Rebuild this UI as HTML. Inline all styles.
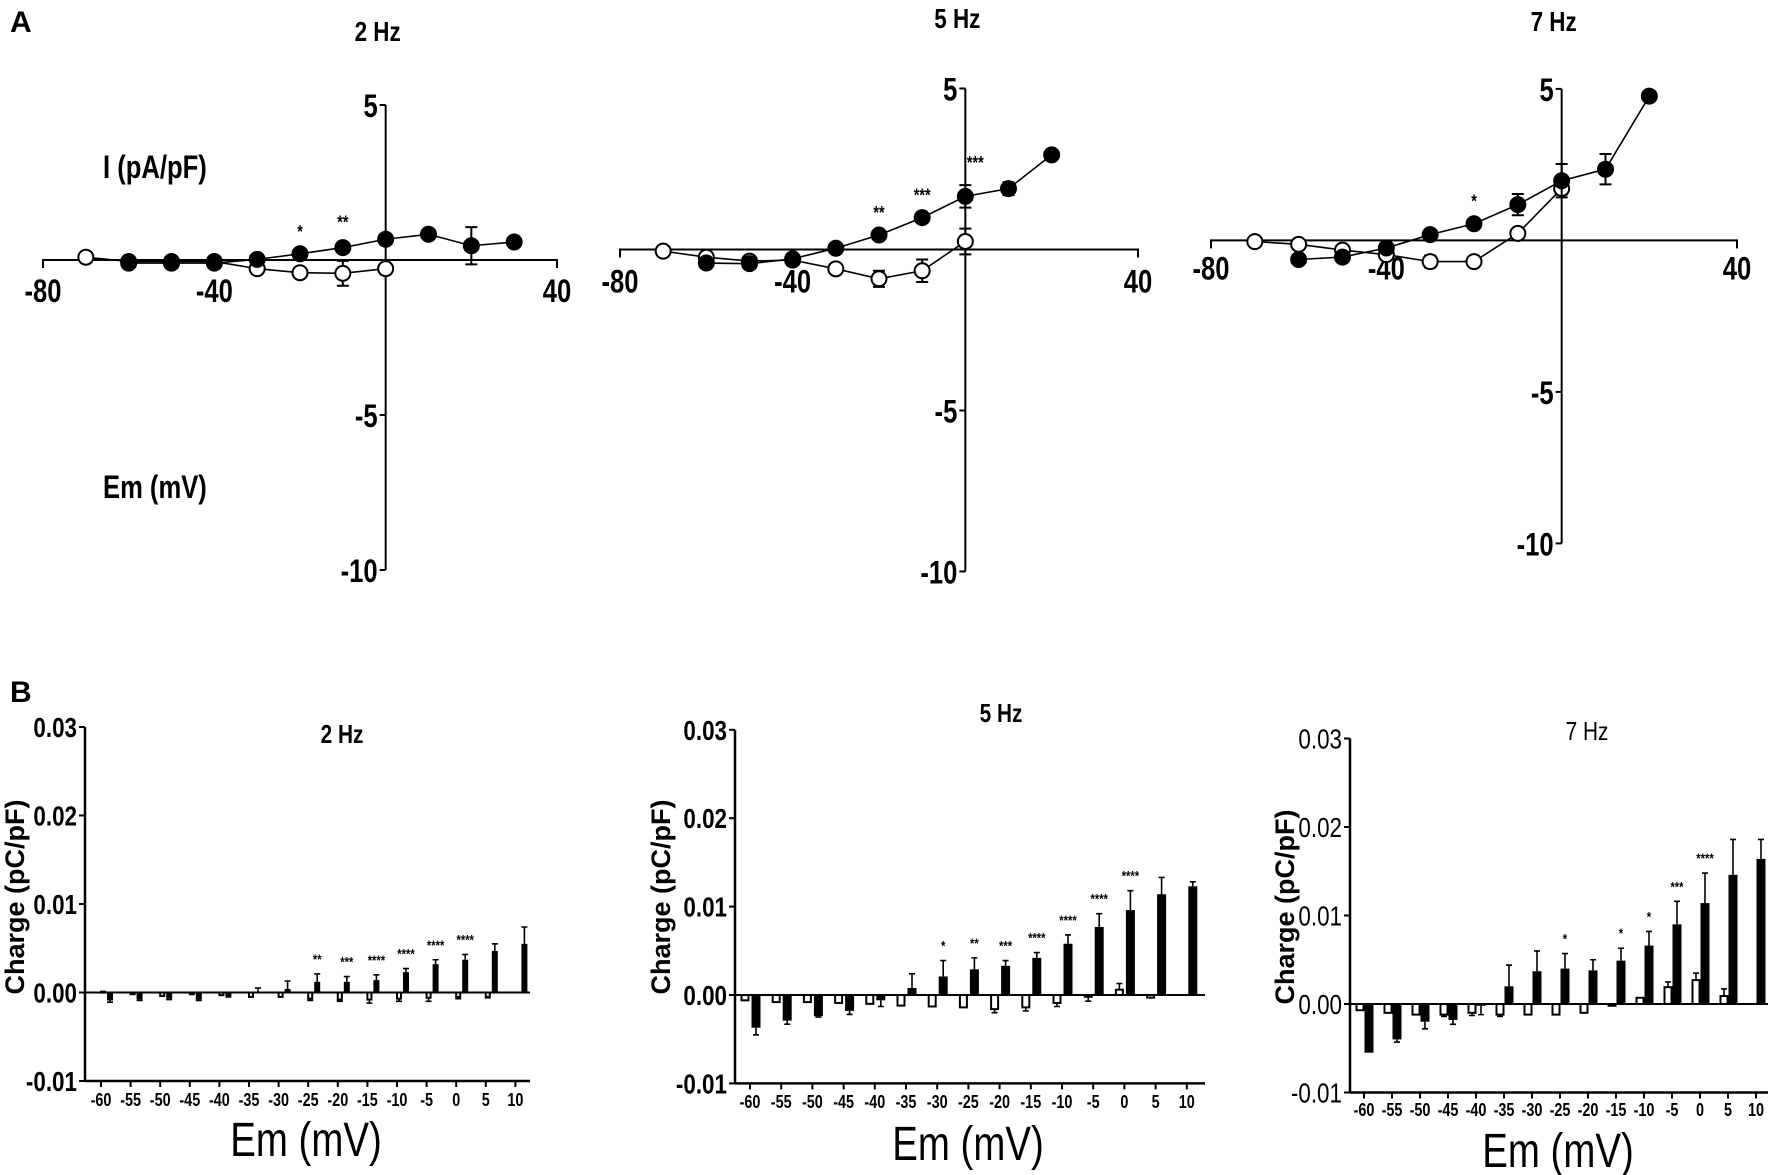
<!DOCTYPE html>
<html><head><meta charset="utf-8">
<style>
html,body{margin:0;padding:0;background:#fff;}
svg{display:block;}
text{font-family:"Liberation Sans Narrow","Liberation Sans",sans-serif;fill:#000;}
</style></head>
<body>
<svg id="fig" width="1772" height="1175" viewBox="0 0 1772 1175" xmlns="http://www.w3.org/2000/svg">
<rect width="1772" height="1175" fill="#fff"/>
<text x="10" y="32" font-size="30" font-weight="bold" style="font-family:'Liberation Sans',sans-serif">A</text>
<text x="10" y="702" font-size="30" font-weight="bold" style="font-family:'Liberation Sans',sans-serif">B</text>
<text class="narrow" x="103" y="178" font-size="32" font-weight="bold">I (pA/pF)</text>
<text class="narrow" x="103" y="498" font-size="32" font-weight="bold">Em (mV)</text>
</svg>
<script>
// ---------- Panel A data (I-V curves) ----------
const ivFilledV = [-60,-50,-40,-30,-20,-10,0,10,20,30];
const ivOpenV = [-70,-60,-50,-40,-30,-20,-10,0];
const a2Filled = [-0.1,-0.1,-0.1,0.02,0.2,0.4,0.67,0.83,0.46,0.58];
const a2FilledErr = [0,0,0,0,0,0.1,0.1,0,0.6,0];
const a2Open = [0.09,-0.05,-0.05,-0.05,-0.28,-0.41,-0.43,-0.28];
const a2OpenErr = [0,0,0,0,0,0,0.4,0];
const a2Stars = ['','','','','*','**','','','',''];
const a5Filled = [-0.42,-0.44,-0.29,0.04,0.45,0.99,1.65,1.89,2.94];
const a5FilledErr = [0,0,0,0,0,0,0.35,0.2,0];
const a5Open = [-0.05,-0.24,-0.36,-0.33,-0.6,-0.91,-0.66,0.25];
const a5OpenErr = [0,0,0,0,0,0.25,0.35,0.4];
const a5Stars = ['','','','','**','***','***','',''];
const a7Filled = [-0.63,-0.55,-0.25,0.19,0.55,1.18,1.97,2.35,4.76];
const a7FilledErr = [0,0,0,0,0,0.35,0.55,0.5,0];
const a7Open = [-0.04,-0.13,-0.32,-0.47,-0.7,-0.7,0.23,1.71];
const a7OpenErr = [0,0,0,0,0.2,0,0,0.2];
const a7Stars = ['','','','','*','','','',''];
const ivXTicks = [-80,-40,40];
const ivYTicks = [5,-5,-10];

// ---------- Panel B data (charge bars) ----------
const bCats = [-60,-55,-50,-45,-40,-35,-30,-25,-20,-15,-10,-5,0,5,10];
const bYTicks = [0.03,0.02,0.01,0.00,-0.01];
const b2Filled = [-0.0009,-0.0008,-0.0007,-0.0008,-0.0004,0.0001,0.0004,0.0012,0.0012,0.0014,0.0023,0.0032,0.0037,0.0047,0.0055];
const b2FilledErr = [0.0002,0.0001,0.0001,0.0001,0.0001,0.0004,0.0009,0.0009,0.0006,0.0006,0.0004,0.0005,0.0006,0.0008,0.0019];
const b2Open = [0.0001,-0.0002,-0.0004,-0.0002,-0.0003,-0.0005,-0.0005,-0.0007,-0.0008,-0.0008,-0.0007,-0.0006,-0.0005,-0.0005,0];
const b2OpenErr = [0,0,0,0,0,0,0,0.0002,0.0002,0.0004,0.0003,0.0004,0.0002,0.0001,0];
const b2Stars = ['','','','','','','','**','***','****','****','****','****','',''];
const b5Filled = [-0.0037,-0.0029,-0.0024,-0.0018,-0.0006,0.0008,0.0021,0.0029,0.0033,0.0042,0.0058,0.0077,0.0096,0.0114,0.0123];
const b5FilledErr = [0.0008,0.0004,0.0001,0.0004,0.0007,0.0016,0.0018,0.0013,0.0006,0.0006,0.001,0.0015,0.0022,0.0019,0.0005];
const b5Open = [-0.0006,-0.0008,-0.0008,-0.0009,-0.001,-0.0012,-0.0013,-0.0014,-0.0016,-0.0014,-0.0009,-0.0002,0.0006,-0.0003,0];
const b5OpenErr = [0,0,0,0,0,0,0,0,0.0004,0.0004,0.0004,0.0005,0.0007,0,0];
const b5Stars = ['','','','','','','*','**','***','****','****','****','****','',''];
const b7Filled = [-0.0055,-0.004,-0.002,-0.0018,-0.0002,0.002,0.0037,0.004,0.0038,0.0049,0.0066,0.009,0.0114,0.0146,0.0164];
const b7FilledErr = [0,0.0003,0.0008,0.0005,0.001,0.0024,0.0023,0.0017,0.0012,0.0014,0.0016,0.0026,0.0034,0.004,0.0022];
const b7Open = [-0.0007,-0.001,-0.0012,-0.0012,-0.001,-0.0012,-0.0012,-0.0012,-0.001,-0.0002,0.0007,0.0019,0.0027,0.0009,0];
const b7OpenErr = [0,0,0,0.0002,0.0003,0.0002,0,0,0,0,0,0.0006,0.0008,0.0008,0];
const b7Stars = ['','','','','','','','*','','*','*','***','****','',''];

const NS = 'http://www.w3.org/2000/svg';
const svg = document.getElementById('fig');
function mk(tag, attrs, parent){
  const e = document.createElementNS(NS, tag);
  for (const k in attrs) e.setAttribute(k, attrs[k]);
  (parent||svg).appendChild(e);
  return e;
}
function txt(parent, x, y, s, size, anchor, weight, extra, wide){
  const t = mk('text', {x:x, y:y, 'font-size':size, 'text-anchor':anchor||'middle', 'font-weight':weight||'bold'}, parent);
  if (extra) for (const k in extra) t.setAttribute(k, extra[k]);
  if (!wide) t.setAttribute('class', 'narrow');
  t.textContent = s;
  return t;
}

// ---------- IV panel drawing ----------
function drawIV(name, geo, title, fY, fE, oY, oE, stars){
  const g = mk('g', {});
  
  
  const xs = v => geo.xL + (v + 80) * (geo.xR - geo.xL) / 120;
  const ys = v => geo.y0 - v * geo.ppu;
  const t = txt(g, xs(0) - 8, geo.titleY, title, 28);
  
  
  const xa = mk('path', {d:`M${xs(-80)},${ys(0)+8}V${ys(0)}H${xs(40)}V${ys(0)+8}`, stroke:'#000', 'stroke-width':2, fill:'none'}, g);
  
  
  const ya = mk('line', {x1:xs(0), y1:ys(5), x2:xs(0), y2:ys(-10), stroke:'#000', 'stroke-width':2}, g);
  
  
  ivYTicks.forEach(v => {
    const tk = mk('line', {x1:xs(0)-6, y1:ys(v), x2:xs(0), y2:ys(v), stroke:'#000', 'stroke-width':2}, g);
    
    
    const l = txt(g, xs(0) - 8, ys(v) + 12, String(v), 32, 'end');
    
    
  });
  ivXTicks.forEach(v => {
    const l = txt(g, xs(v), ys(0) + geo.xlabOff, String(v), 32, 'middle');
    
    
  });
  function series(vs, vals, errs, filled, sname){
    const pts = vals.map((v,i) => xs(vs[i]) + ',' + ys(v)).join(' ');
    const pl = mk('polyline', {points:pts, fill:'none', stroke:'#000', 'stroke-width':1.6}, g);
    
    
    vals.forEach((v,i) => {
      const e = errs[i];
      if (e > 0){
        const x = xs(vs[i]);
        const eb = mk('path', {d:`M${x},${ys(v+e)}V${ys(v-e)}M${x-6},${ys(v+e)}H${x+6}M${x-6},${ys(v-e)}H${x+6}`, stroke:'#000', 'stroke-width':2, fill:'none'}, g);
        
        
      }
    });
    vals.forEach((v,i) => {
      const c = mk('circle', {cx:xs(vs[i]), cy:ys(v), r:7.5, fill:filled?'#000':'#fff', stroke:'#000', 'stroke-width':2}, g);
      
      
    });
  }
  series(ivOpenV, oY, oE, false, 'control');
  series(ivFilledV, fY, fE, true, 'treated');
  stars.forEach((s,i) => {
    if (!s) return;
    const v = fY[i] + (fE[i] || 0);
    const st = txt(g, xs(ivFilledV[i]) + (ivFilledV[i] === 0 ? 10 : 0), ys(v) - 16, s, 18, 'middle');
    
    
  });
}

drawIV('iv-chart-2hz', {xL:43, xR:557, y0:260, ppu:31, titleY:41, xlabOff:42}, '2 Hz', a2Filled, a2FilledErr, a2Open, a2OpenErr, a2Stars);
drawIV('iv-chart-5hz', {xL:620, xR:1138, y0:249.5, ppu:32.2, titleY:28, xlabOff:43}, '5 Hz', a5Filled, a5FilledErr, a5Open, a5OpenErr, a5Stars);
drawIV('iv-chart-7hz', {xL:1211, xR:1737, y0:240.4, ppu:30.3, titleY:31, xlabOff:39}, '7 Hz', a7Filled, a7FilledErr, a7Open, a7OpenErr, a7Stars);

// ---------- Bar panel drawing ----------
function drawBars(name, geo, title, fV, fE, oV, oE, stars){
  const g = mk('g', {});
  
  
  const ys = v => geo.y0 - v * geo.ppu * 100;
  const xc = i => geo.cat0 + i * geo.step;
  const wt = geo.bold ? 'bold' : 'normal';
  const t = txt(g, geo.titleX, geo.titleY, title, 26, 'middle', wt, geo.bold ? null : {fill:'#333'});
  
  
  const yt = txt(g, 0, 0, 'Charge (pC/pF)', 27, 'middle', 'bold', {transform:`translate(${geo.ylabX},${geo.ylabY}) rotate(-90)`, style:"font-family:'Liberation Sans',sans-serif"}, true);
  
  
  const xt = txt(g, geo.xlabX, geo.xlabY, 'Em (mV)', 48, 'middle', 'normal');
  
  
  const ya = mk('line', {x1:geo.ax, y1:ys(0.03), x2:geo.ax, y2:ys(-0.01), stroke:'#000', 'stroke-width':2.5}, g);
  
  
  const xa = mk('line', {x1:geo.ax, y1:ys(-0.01), x2:geo.xEnd, y2:ys(-0.01), stroke:'#000', 'stroke-width':2.5}, g);
  
  
  const zl = mk('line', {x1:geo.ax, y1:ys(0), x2:geo.xEnd, y2:ys(0), stroke:'#000', 'stroke-width':2}, g);
  
  
  bYTicks.forEach(v => {
    const tk = mk('line', {x1:geo.ax-6, y1:ys(v), x2:geo.ax, y2:ys(v), stroke:'#000', 'stroke-width':2}, g);
    
    
    const l = txt(g, geo.ax - 8, ys(v) + 10, v.toFixed(2), 28, 'end', wt);
    
    
  });
  bCats.forEach((c,i) => {
    const tk = mk('line', {x1:xc(i), y1:ys(-0.01), x2:xc(i), y2:ys(-0.01)+6, stroke:'#000', 'stroke-width':2}, g);
    
    
    const l = txt(g, xc(i), geo.catLabY, String(c), 18, 'middle', 'bold');
    
    
  });
  function bars(vals, errs, filled, off, sname){
    vals.forEach((v,i) => {
      const cx = xc(i) + off;
      const y1 = ys(Math.max(v,0)), y2 = ys(Math.min(v,0));
      const e = errs[i];
      if (e > 0){
        const ye = ys(v + (v >= 0 ? e : -e));
        const eb = mk('path', {d:`M${cx},${ys(v)}V${ye}M${cx-3},${ye}H${cx+3}`, stroke:'#000', 'stroke-width':1.6, fill:'none'}, g);
        
        
      }
      if (Math.abs(v) < 1e-9) return;
      const w = filled ? geo.bw : geo.bw - 2;
      const r = mk('rect', {x:cx - w/2, y:y1, width:w, height:Math.max(y2-y1,1), fill:filled?'#000':'#fff', stroke:'#000', 'stroke-width':filled?0:2}, g);
      
      
    });
  }
  bars(oV, oE, false, geo.oOff, 'control');
  bars(fV, fE, true, geo.fOff, 'treated');
  stars.forEach((s,i) => {
    if (!s) return;
    const top = fV[i] + fE[i];
    const st = txt(g, xc(i) + geo.fOff, ys(top) - 10, s, 14, 'middle', 'bold', {fill:'#333'});
    
    
  });
}

drawBars('bar-chart-2hz', {ax:85, xEnd:530, y0:992.5, ppu:88.5, cat0:101, step:29.6, oOff:2, fOff:9, bw:6,
  titleX:342, titleY:743, ylabX:24, ylabY:897, xlabX:306, xlabY:1156, catLabY:1106, bold:true},
  '2 Hz', b2Filled, b2FilledErr, b2Open, b2OpenErr, b2Stars);
drawBars('bar-chart-5hz', {ax:735, xEnd:1205, y0:995, ppu:88.4, cat0:750, step:31.2, oOff:-5, fOff:6, bw:9,
  titleX:1001, titleY:722, ylabX:670, ylabY:897, xlabX:968, xlabY:1160, catLabY:1108, bold:true},
  '5 Hz', b5Filled, b5FilledErr, b5Open, b5OpenErr, b5Stars);
drawBars('bar-chart-7hz', {ax:1350, xEnd:1768, y0:1004, ppu:88.5, cat0:1364, step:28, oOff:-4, fOff:5, bw:9,
  titleX:1587, titleY:740, ylabX:1294, ylabY:907, xlabX:1558, xlabY:1167, catLabY:1116, bold:false},
  '7 Hz', b7Filled, b7FilledErr, b7Open, b7OpenErr, b7Stars);

// condense text to mimic narrow font
document.querySelectorAll('text.narrow').forEach(t => {
  const len = t.getComputedTextLength();
  if (len > 0){
    t.setAttribute('textLength', (len * 0.8).toFixed(1));
    t.setAttribute('lengthAdjust', 'spacingAndGlyphs');
  }
});
</script>
</body></html>
